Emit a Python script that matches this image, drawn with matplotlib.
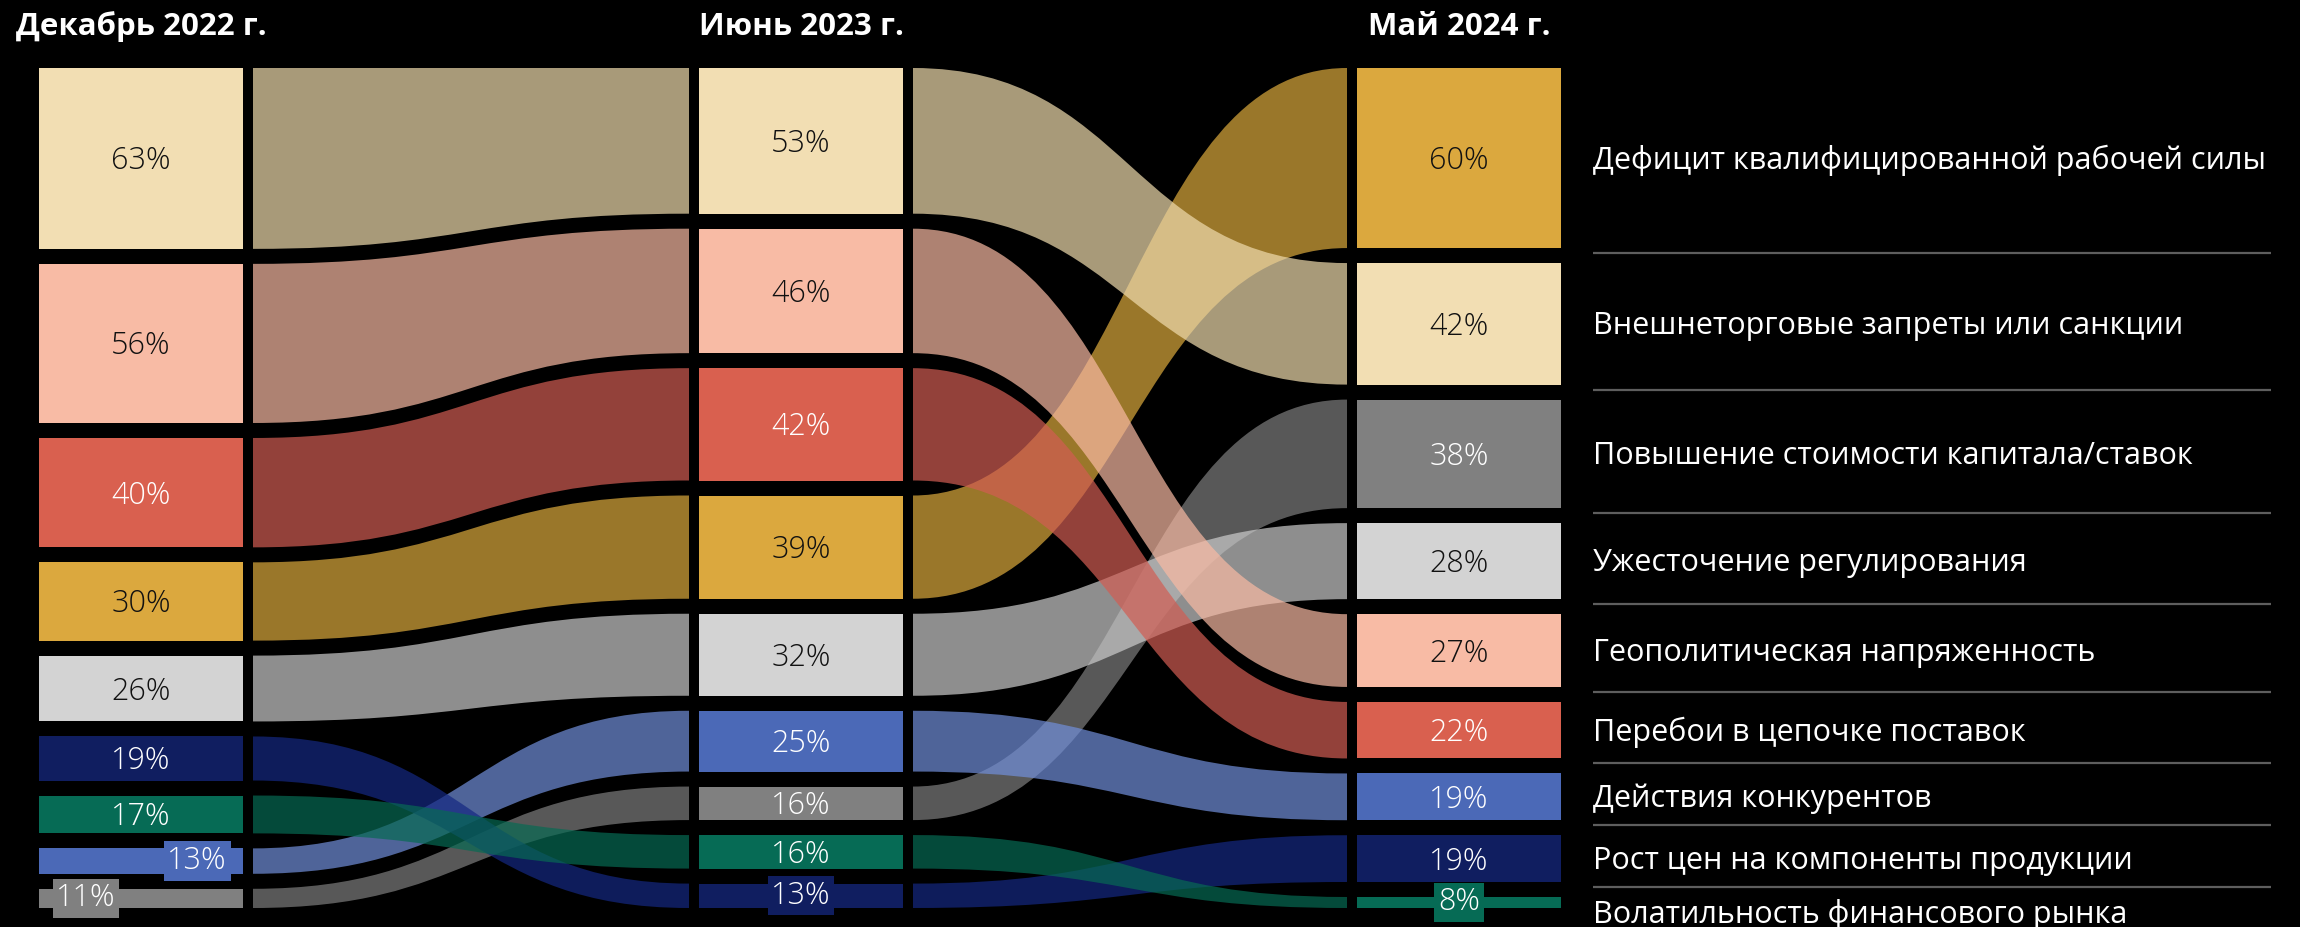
import matplotlib
matplotlib.use('Agg')
import matplotlib.pyplot as plt
from matplotlib.path import Path
from matplotlib.patches import PathPatch, Rectangle

# ---------------- data ----------------
periods = ['Декабрь 2022 г.', 'Июнь 2023 г.', 'Май 2024 г.']
categories = [
    'Дефицит квалифицированной рабочей силы',
    'Внешнеторговые запреты или санкции',
    'Повышение стоимости капитала/ставок',
    'Ужесточение регулирования',
    'Геополитическая напряженность',
    'Перебои в цепочке поставок',
    'Действия конкурентов',
    'Рост цен на компоненты продукции',
    'Волатильность финансового рынка',
]
dec_2022 = [30, 63, 11, 26, 56, 40, 13, 19, 17]
jun_2023 = [39, 53, 16, 32, 46, 42, 25, 13, 16]
may_2024 = [60, 42, 38, 28, 27, 22, 19, 19, 8]

box_colors = ['#DBA83E', '#F2DEB3', '#808080', '#D3D3D3', '#F8BBA5',
              '#D9604F', '#4B69B7', '#101E60', '#066B55']
link_colors = ['#DCAA3D', '#F0DCAE', '#7F7F7F', '#CCCCCC', '#F9BAA3',
               '#D25D53', '#718FDB', '#142882', '#076A53']
text_colors = ['#111111', '#111111', 'white', '#111111', '#111111',
               'white', 'white', 'white', 'white']

columns = [dec_2022, jun_2023, may_2024]

# ---------------- layout / style ----------------
W, H = 2300, 927
TOP, BOTTOM, GAP = 68, 908, 15
col_left = [39, 699, 1357]
col_w = 204
link_pad = 10
label_x = 1593
line_x1 = 2271
label_xfrac_override = {(0, 6): 0.775, (0, 2): 0.23}

PCT_FONT = ['Open Sans', 'DejaVu Sans']
LBL_FONT = ['Open Sans', 'DejaVu Sans']

fig = plt.figure(figsize=(W / 100, H / 100), dpi=100, facecolor='black')
ax = fig.add_axes([0, 0, 1, 1])
ax.set_xlim(0, W)
ax.set_ylim(H, 0)
ax.axis('off')
ax.set_facecolor('black')

# compute boxes
boxes = []
for c, vals in enumerate(columns):
    order = sorted(range(len(vals)), key=lambda i: (-vals[i], i))
    k = (BOTTOM - TOP + GAP) / sum(vals)
    y = TOP
    d = {}
    for i in order:
        h = vals[i] * k
        d[i] = (y, y + h - GAP)
        y += h
    boxes.append(d)

# links
for c in range(len(columns) - 1):
    x0 = col_left[c] + col_w + link_pad
    x1 = col_left[c + 1] - link_pad
    xm = (x0 + x1) / 2
    for i in range(len(categories)):
        t0, b0 = boxes[c][i]
        t1, b1 = boxes[c + 1][i]
        verts = [(x0, t0), (xm, t0), (xm, t1), (x1, t1),
                 (x1, b1), (xm, b1), (xm, b0), (x0, b0), (x0, t0)]
        codes = [Path.MOVETO, Path.CURVE4, Path.CURVE4, Path.CURVE4,
                 Path.LINETO, Path.CURVE4, Path.CURVE4, Path.CURVE4, Path.CLOSEPOLY]
        ax.add_patch(PathPatch(Path(verts, codes), facecolor=link_colors[i],
                               edgecolor='none', alpha=0.7, zorder=2 + i * 0.01))

# boxes and percentage labels
for c, vals in enumerate(columns):
    for i, v in enumerate(vals):
        t, b = boxes[c][i]
        ax.add_patch(Rectangle((col_left[c], t), col_w, b - t,
                               facecolor=box_colors[i], edgecolor='none', zorder=3))
        frac = label_xfrac_override.get((c, i), 0.5)
        cx = col_left[c] + col_w * frac
        cy = (t + b) / 2
        bbox = None
        if b - t < 30:
            bbox = dict(boxstyle='square,pad=0.12', facecolor=box_colors[i],
                        edgecolor='none')
        else:
            cy += 3
        ax.text(cx, cy, f'{v}%', ha='center', va='center', fontsize=22,
                color=text_colors[i], family=PCT_FONT, fontweight=300,
                bbox=bbox, zorder=4)

# headers
for c, p in enumerate(periods):
    ax.text(col_left[c] + col_w / 2, 27, p, ha='center', va='center',
            fontsize=22.5, fontweight='bold', color='white', family=LBL_FONT)

# right labels
last = boxes[-1]
order = sorted(range(len(may_2024)), key=lambda i: (-may_2024[i], i))
prev_y = -1e9
for n, i in enumerate(order):
    t, b = last[i]
    y = max((t + b) / 2 + 2, prev_y + 54)
    prev_y = y
    ax.text(label_x, y, categories[i], ha='left', va='center', fontsize=22,
            color='white', family=LBL_FONT)
    if n < len(order) - 1:
        ly = b + 5
        ax.plot([label_x, line_x1], [ly, ly], color='#5E5E5E', lw=1.6,
                solid_capstyle='butt')

fig.savefig('out.png', dpi=100, facecolor='black')
